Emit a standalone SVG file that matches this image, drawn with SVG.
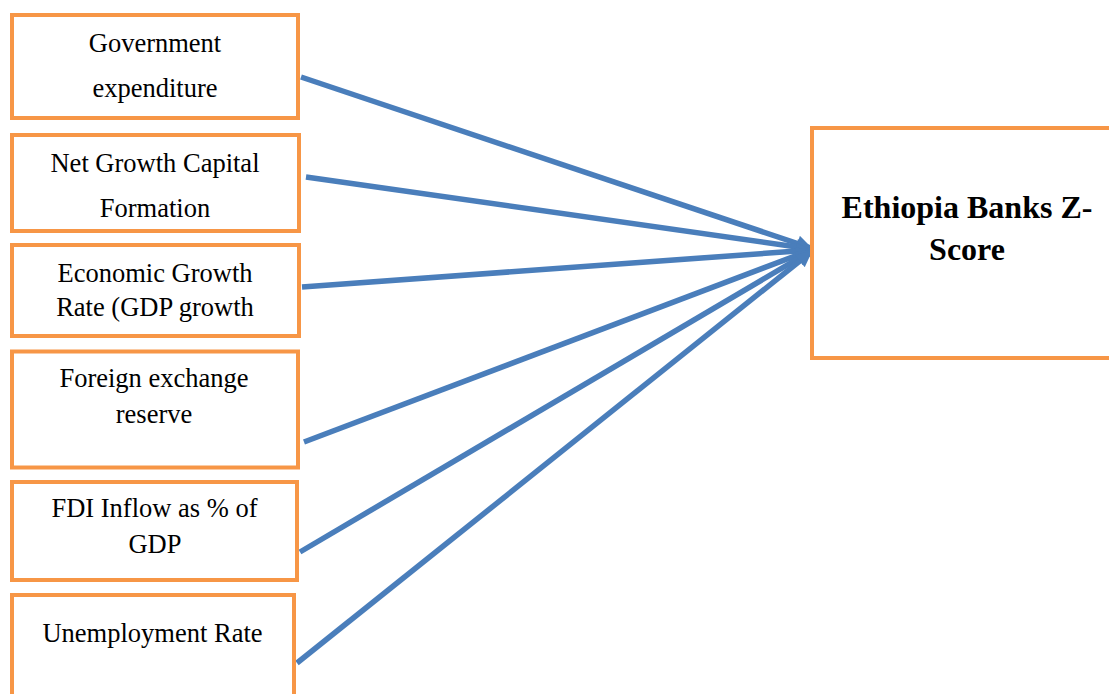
<svg xmlns="http://www.w3.org/2000/svg" width="1109" height="694" viewBox="0 0 1109 694">
<style>
.box{fill:#fff;stroke:#F79646;stroke-width:4}
.t{font-family:"Liberation Serif","Times New Roman",serif;font-size:26.5px;fill:#000;text-anchor:middle}
.tb{font-family:"Liberation Serif","Times New Roman",serif;font-size:32px;font-weight:bold;fill:#000;text-anchor:middle}
.c{stroke:#4A7EBB;stroke-width:5.5;fill:none;marker-end:url(#ah)}
</style>
<defs>
<marker id="ah" markerUnits="userSpaceOnUse" viewBox="0 0 10 10" refX="9" refY="5" markerWidth="18" markerHeight="16" orient="auto">
<path d="M0,0 L10,5 L0,10 z" fill="#4A7EBB"/>
</marker>
</defs>
<rect width="1109" height="694" fill="#fff"/>
<g id="connectors">
<line class="c" x1="301" y1="77" x2="811" y2="248"/>
<line class="c" x1="306" y1="177" x2="811" y2="249"/>
<line class="c" x1="302" y1="287" x2="811" y2="250"/>
<line class="c" x1="304" y1="442" x2="811" y2="250"/>
<line class="c" x1="300" y1="552" x2="811" y2="251"/>
<line class="c" x1="297" y1="663" x2="811" y2="252"/>
</g>
<g id="n1"><rect class="box" x="12" y="15" width="286" height="103"/><text class="t" x="155" y="52">Government</text><text class="t" x="155" y="97">expenditure</text></g>
<g id="n2"><rect class="box" x="12" y="135" width="287" height="96"/><text class="t" x="155" y="172">Net Growth Capital</text><text class="t" x="155" y="217">Formation</text></g>
<g id="n3"><rect class="box" x="12" y="245" width="287" height="91"/><text class="t" x="155" y="282">Economic Growth</text><text class="t" x="155" y="316">Rate (GDP growth</text></g>
<g id="n4"><rect class="box" x="12" y="351.5" width="286" height="116"/><text class="t" x="154" y="387">Foreign exchange</text><text class="t" x="154" y="423">reserve</text></g>
<g id="n5"><rect class="box" x="12" y="482" width="285" height="98"/><text class="t" x="154.5" y="517">FDI Inflow as % of</text><text class="t" x="155" y="553">GDP</text></g>
<g id="n6"><rect class="box" x="12" y="595" width="282" height="110"/><text class="t" x="152.5" y="642">Unemployment Rate</text></g>
<g id="target"><rect class="box" x="812" y="128" width="310" height="230"/><text class="tb" x="967" y="218">Ethiopia Banks Z-</text><text class="tb" x="967" y="260">Score</text></g>
</svg>
